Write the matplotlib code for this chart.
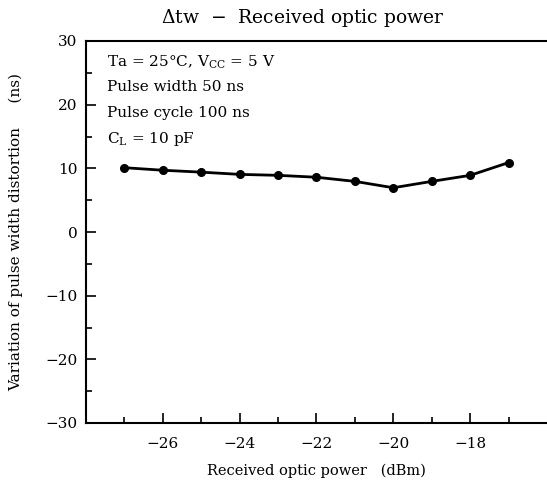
import matplotlib
matplotlib.use("Agg")
import matplotlib.pyplot as plt
from matplotlib.ticker import MultipleLocator, FixedLocator

# dados
potencia = [-27, -26, -25, -24, -23, -22, -21, -20, -19, -18, -17]
delta_tw = [10.1, 9.7, 9.4, 9.05, 8.9, 8.6, 7.95, 6.95, 7.95, 8.9, 10.9]

titulo = r"$\mathit{\Delta}$tw  $-$  Received optic power"
ex = "Received optic power   (dBm)"
ey = "Variation of pulse width distortion     (ns)"
condicoes = [
    r"Ta = 25°C, V$_\mathregular{CC}$ = 5 V",
    "Pulse width 50 ns",
    "Pulse cycle 100 ns",
    r"C$_\mathregular{L}$ = 10 pF",
]
xticks = [-26, -24, -22, -20, -18]
xminor = [-27, -25, -23, -21, -19, -17]

plt.rcParams["font.family"] = "DejaVu Serif"
plt.rcParams["mathtext.fontset"] = "dejavuserif"

fig = plt.figure(figsize=(5.47, 4.88), dpi=100)
ax = fig.add_axes([86 / 547, 1 - 423 / 488, 1 - 86 / 547, (423 - 41) / 488])

ax.plot(potencia, delta_tw, color="k", linewidth=2, marker="o", markersize=5.5)

ax.set_xlim(-28, -16)
ax.set_ylim(-30, 30)
ax.xaxis.set_major_locator(FixedLocator(xticks))
ax.xaxis.set_minor_locator(FixedLocator(xminor))
ax.yaxis.set_major_locator(MultipleLocator(10))
ax.yaxis.set_minor_locator(MultipleLocator(5))
ax.tick_params(which="both", direction="in", width=1.2, labelsize=11)
ax.tick_params(which="major", length=7)
ax.tick_params(which="minor", length=4)
ax.tick_params(axis="x", pad=10)
ax.tick_params(axis="y", pad=6)
ax.spines["right"].set_visible(False)
for s in ["left", "bottom", "top"]:
    ax.spines[s].set_linewidth(1.5)

# textos
fig.text(303 / 547, 1 - 18 / 488, titulo, ha="center", va="center", fontsize=13.5)
ax.set_xlabel(ex, fontsize=10.5, labelpad=9)
ax.set_ylabel(ey, fontsize=11, labelpad=16)

ys = [62, 87, 113, 139]
for t, y in zip(condicoes, ys):
    fig.text(107 / 547, 1 - y / 488, t, ha="left", va="center", fontsize=11)

fig.savefig("out.png", dpi=100)
